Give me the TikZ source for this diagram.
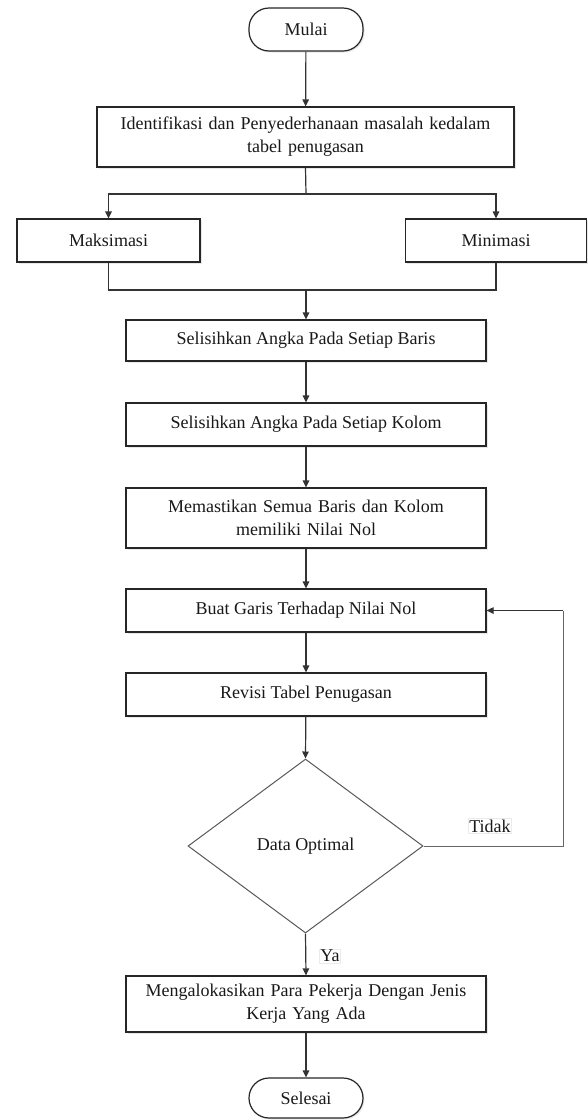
\documentclass[tikz,border=0pt]{standalone}
\usepackage{fontspec}
\setmainfont{Liberation Serif}
\usetikzlibrary{arrows.meta,shapes.geometric,shadows}
\begin{document}
\begin{tikzpicture}[x=1pt,y=-1pt,
  every node/.style={font=\fontsize{18}{23}\selectfont, text=black!90},
  boxstyle/.style={draw=black!85, line width=1.2pt, fill=white, rectangle, inner sep=2pt, align=center,
     drop shadow={opacity=0.18, shadow xshift=1.5pt, shadow yshift=-1.5pt}},
  termstyle/.style={boxstyle, rounded corners=20pt, minimum width=114pt},
  decstyle/.style={draw=black!65, line width=1pt, diamond, inner sep=0pt, minimum width=235pt, minimum height=174pt, fill=white},
  arr/.style={draw=black!80, line width=1.2pt, -{Triangle[length=7pt,width=6.5pt]}},
  ln/.style={draw=black!80, line width=1.2pt},
  loopln/.style={draw=black!60, line width=1pt},
  lbl/.style={fill=white, draw=black!8, inner sep=1pt}
]
\useasboundingbox (0,0) rectangle (588,1120);
\node[termstyle, minimum height=43pt] (mulai) at (306,29.5) {Mulai};
\node[boxstyle, minimum width=417pt, minimum height=60pt, text width=405pt] (ident) at (305.5,137) {Identifikasi dan Penyederhanaan masalah kedalam\\tabel penugasan};
\node[boxstyle, minimum width=183pt, minimum height=43pt] (maks) at (108.5,240.5) {Maksimasi};
\node[boxstyle, minimum width=181pt, minimum height=43pt] (mini) at (496,240.5) {Minimasi};
\node[boxstyle, minimum width=360pt, minimum height=41pt] (baris) at (306,340.5) {Selisihkan Angka Pada Setiap Baris};
\node[boxstyle, minimum width=360pt, minimum height=43pt] (kolom) at (306,424.5) {Selisihkan Angka Pada Setiap Kolom};
\node[boxstyle, minimum width=360pt, minimum height=60pt, text width=340pt] (pasti) at (306,518) {Memastikan Semua Baris dan Kolom\\memiliki Nilai Nol};
\node[boxstyle, minimum width=360pt, minimum height=43pt] (garis) at (306,610.5) {Buat Garis Terhadap Nilai Nol};
\node[boxstyle, minimum width=360pt, minimum height=43pt] (revisi) at (306,694.5) {Revisi Tabel Penugasan};
\node[decstyle] (dec) at (305.5,846) {Data Optimal};
\node[boxstyle, minimum width=360pt, minimum height=56pt, text width=350pt] (alok) at (306,1004) {Mengalokasikan Para Pekerja Dengan Jenis\\Kerja Yang Ada};
\node[termstyle, minimum height=40pt] (selesai) at (306,1098) {Selesai};

\coordinate (split) at (306,194);
\coordinate (merge) at (306,290);
\coordinate (loopa) at (563,846);
\coordinate (loopb) at (563,610.5);

\draw[arr] (mulai) -- (ident);
\draw[ln] (ident.south) -- (split);
\draw[arr] (split) -| (maks.north);
\draw[arr] (split) -| (mini.north);
\draw[ln] (maks.south) |- (merge) -| (mini.south);
\draw[arr] (merge) -- (baris.north);
\draw[arr] (baris) -- (kolom);
\draw[arr] (kolom) -- (pasti);
\draw[arr] (pasti) -- (garis);
\draw[arr] (garis) -- (revisi);
\draw[arr] (revisi) -- (dec.north);
\draw[arr] (dec.south) -- (alok.north);
\draw[arr] (alok) -- (selesai);
\draw[loopln] (dec.east) -- (loopa) -- (loopb);
\draw[arr] (loopb) -- (garis.east);
\node[lbl] (ya) at (330,956) {Ya};
\node[lbl] (tidak) at (490,826) {Tidak};
\end{tikzpicture}
\end{document}
